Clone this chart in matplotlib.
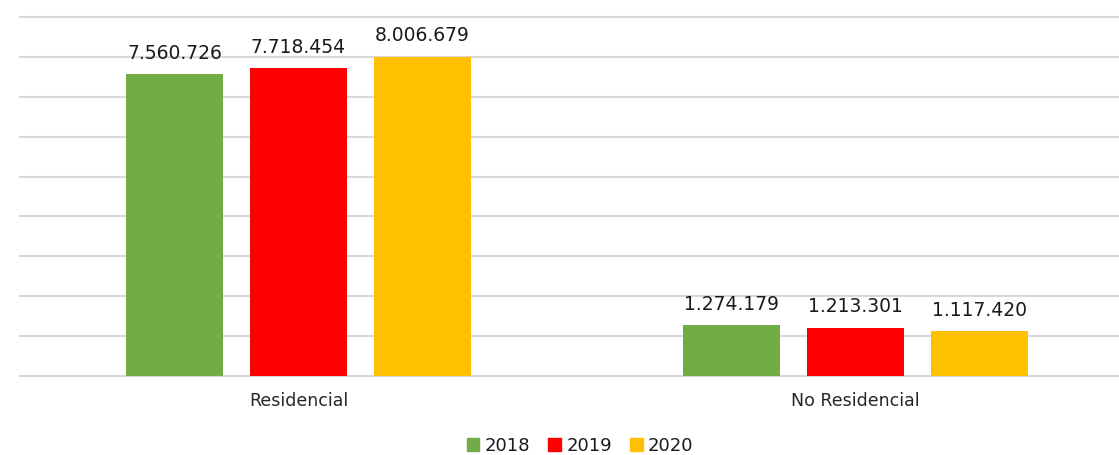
import numpy as np
import matplotlib
matplotlib.use("Agg")
import matplotlib.pyplot as plt
from matplotlib.patches import Patch

categories = ["Residencial", "No Residencial"]
years = ["2018", "2019", "2020"]
v2018 = [7560726, 1274179]
v2019 = [7718454, 1213301]
v2020 = [8006679, 1117420]
colors = ["#70ad47", "#ff0000", "#ffc000"]


def fmt(v):
    return f"{v:,}".replace(",", ".")


fig = plt.figure(figsize=(11.19, 4.55), dpi=100)
# axes spans slightly past the right edge (cropped original)
ax = fig.add_axes([20 / 1119, 1 - 376 / 455, 1114 / 1119, 359 / 455])

x = np.arange(len(categories))
w = 0.174
off = 0.2226
for i, (vals, c) in enumerate(zip([v2018, v2019, v2020], colors)):
    pos = x + (i - 1) * off
    ax.bar(pos, vals, width=w, color=c, zorder=3)
    for p, v in zip(pos, vals):
        ax.text(p, v + 280000, fmt(v), ha="center", va="bottom",
                fontsize=13.5, color="#1a1a1a")

ax.set_xlim(-0.5, 1.5)
ax.set_ylim(0, 9000000)
ax.set_yticks(np.arange(0, 9000001, 1000000))
ax.yaxis.grid(True, color="#d9d9d9", linewidth=1.5, zorder=0)
for gl in ax.get_ygridlines():
    gl.set_clip_on(False)
ax.tick_params(axis="y", left=False, labelleft=False)
ax.tick_params(axis="x", bottom=False, pad=8)
ax.set_xticks(x)
ax.set_xticklabels(categories, fontsize=12.5, color="#262626")
for s in ["top", "right", "left"]:
    ax.spines[s].set_visible(False)
ax.spines["bottom"].set_color("#d9d9d9")
ax.spines["bottom"].set_linewidth(1.5)

handles = [Patch(color=c, label=y) for c, y in zip(colors, years)]
fig.legend(handles=handles, loc="center", bbox_to_anchor=(580 / 1119, 1 - 446 / 455),
           ncol=3, frameon=False, fontsize=13, handlelength=0.7, handleheight=0.7,
           handletextpad=0.3, columnspacing=1.0, labelcolor="#1a1a1a")

fig.savefig("out.png", dpi=100)
